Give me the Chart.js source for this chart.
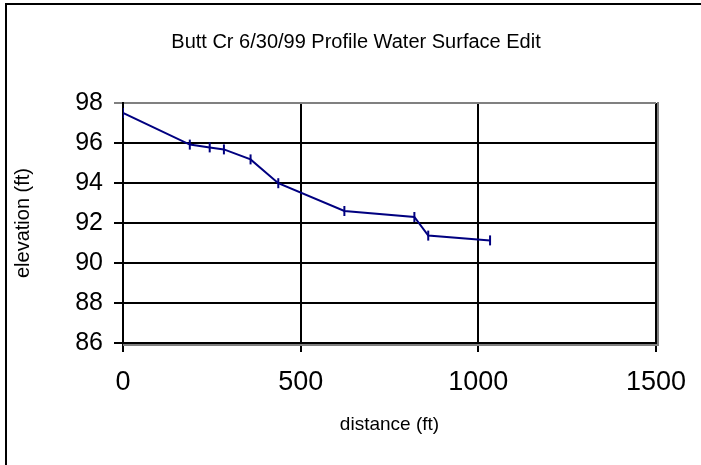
<!DOCTYPE html>
<html>
<head>
<meta charset="utf-8">
<script src="https://cdn.jsdelivr.net/npm/chart.js@4/dist/chart.umd.min.js"></script>
<style>
  html, body { margin: 0; padding: 0; background: #ffffff; }
  #wrap { position: relative; width: 701px; height: 465px; }
</style>
</head>
<body>
<div id="wrap"><canvas id="c" width="701" height="465"></canvas></div>
<script>
// Data
const distance = [0, 188, 244, 284, 359, 437, 623, 820, 859, 1033];
const elevation = [97.5, 95.92, 95.78, 95.68, 95.18, 93.99, 92.6, 92.3, 91.37, 91.13];
const xTicks = [0, 500, 1000, 1500];
const yTicks = [86, 88, 90, 92, 94, 96, 98];
const chartTitle = 'Butt Cr 6/30/99 Profile Water Surface Edit';
const xTitle = 'distance (ft)';
const yTitle = 'elevation (ft)';

const FONT = 'Arial, "Liberation Sans", Helvetica, sans-serif';

const points = distance.map((d, i) => ({ x: d, y: elevation[i] }));

const frame = {
  id: 'frame',
  beforeDraw(chart) {
    const ctx = chart.ctx;
    ctx.save();
    ctx.fillStyle = '#ffffff';
    ctx.fillRect(0, 0, chart.width, chart.height);
    ctx.strokeStyle = '#000000';
    ctx.lineWidth = 2;
    ctx.strokeRect(6, 4, chart.width + 20, chart.height + 20);
    ctx.restore();
  },
  beforeDatasetsDraw(chart) {
    const ctx = chart.ctx;
    const a = chart.chartArea;
    ctx.save();
    ctx.strokeStyle = '#808080';
    ctx.lineWidth = 2;
    ctx.beginPath();
    ctx.moveTo(a.right + 2, a.top - 1);
    ctx.lineTo(a.right + 2, a.bottom + 2);
    ctx.lineTo(a.left, a.bottom + 2);
    ctx.stroke();
    ctx.restore();
  }
};

new Chart(document.getElementById('c'), {
  type: 'line',
  data: {
    datasets: [{
      data: points,
      borderColor: '#000080',
      backgroundColor: '#000080',
      borderWidth: 2,
      pointStyle: 'line',
      rotation: 90,
      pointRadius: 5,
      pointBorderWidth: 2,
      pointBorderColor: '#000080',
      fill: false,
      tension: 0
    }]
  },
  options: {
    responsive: false,
    animation: false,
    devicePixelRatio: 1,
    layout: { padding: { left: 11, right: 0, top: 0, bottom: 0 } },
    plugins: {
      legend: { display: false },
      tooltip: { enabled: false },
      title: {
        display: true,
        text: chartTitle,
        color: '#000000',
        font: { family: FONT, size: 20, weight: 'normal' },
        padding: { top: 30, bottom: 49 }
      }
    },
    scales: {
      x: {
        type: 'linear',
        min: 0, max: 1500,
        afterBuildTicks(scale) { scale.ticks = xTicks.map(v => ({ value: v })); },
        afterFit(scale) {
          scale.height = 122;
          scale.paddingRight = 45;
          scale.paddingLeft = 0;
        },
        ticks: {
          color: '#000000',
          font: { family: FONT, size: 27 },
          padding: 14,
          maxRotation: 0,
          callback: (v) => String(v)
        },
        grid: {
          color: '#000000',
          lineWidth: 2,
          tickLength: 9,
          drawTicks: true
        },
        border: { color: '#000000', width: 2 },
        title: {
          display: true,
          text: xTitle,
          color: '#000000',
          font: { family: FONT, size: 19 },
          padding: { top: 0, bottom: 29 }
        }
      },
      y: {
        type: 'linear',
        min: 86, max: 98,
        afterBuildTicks(scale) { scale.ticks = yTicks.map(v => ({ value: v })); },
        afterFit(scale) {
          scale.width = 112;
          scale.paddingTop = 0;
          scale.paddingBottom = 0;
        },
        ticks: {
          color: '#000000',
          font: { family: FONT, size: 25 },
          padding: 11,
          callback: (v) => String(v)
        },
        grid: {
          color: (c) => (c.tick && c.tick.value === 98 ? '#808080' : '#000000'),
          lineWidth: 2,
          tickLength: 9
        },
        border: { color: '#000000', width: 2 },
        title: {
          display: true,
          text: yTitle,
          color: '#000000',
          font: { family: FONT, size: 20 },
          padding: { top: 0, bottom: 0 }
        }
      }
    }
  },
  plugins: [frame]
});
</script>
</body>
</html>
